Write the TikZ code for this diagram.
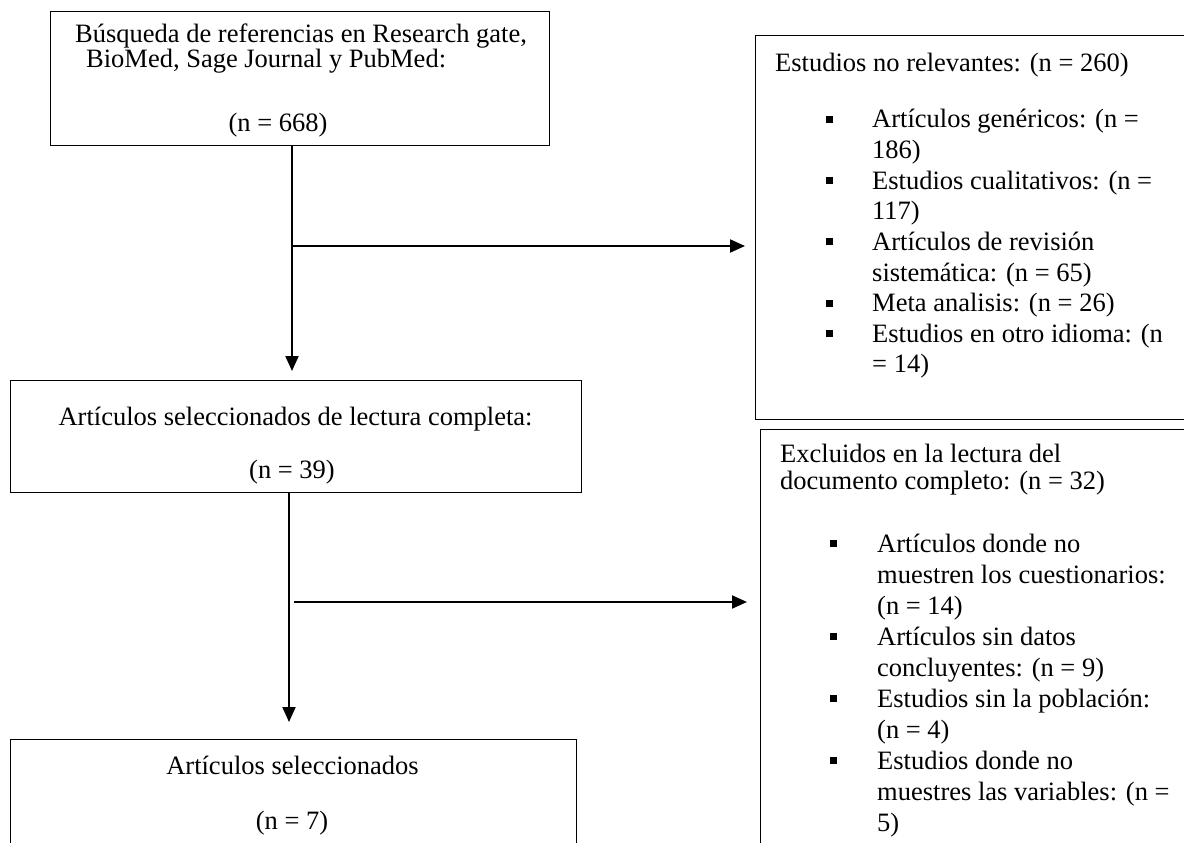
\documentclass[tikz,border=0pt]{standalone}
\usepackage{fontspec}
\setmainfont{Liberation Serif}
\usetikzlibrary{arrows.meta}
\begin{document}
\begin{tikzpicture}[x=1pt,y=-1pt,
  box/.style={draw=black, line width=1.2pt, inner sep=0pt, anchor=north west},
  txt/.style={inner sep=0pt, font=\fontsize{26.5}{23}\selectfont},
  ltxt/.style={txt, anchor=base west},
  ctxt/.style={txt, anchor=base},
  arr/.style={line width=2pt, -{Triangle[length=15pt,width=13pt]}},
  sq/.style={fill=black}]
\clip (0,0) rectangle (1184,843);
\fill[white] (0,0) rectangle (1184,843);

% boxes
\node[box, minimum width=499pt, minimum height=134pt] (b1) at (50,11) {};
\node[box, minimum width=440pt, minimum height=384pt] (b2) at (755,35) {};
\node[box, minimum width=435pt, minimum height=431pt] (b3) at (760,429) {};
\node[box, minimum width=571pt, minimum height=112pt] (b4) at (10,380) {};
\node[box, minimum width=566pt, minimum height=121pt] (b5) at (10,739) {};

% box 1 text (anchor = baseline of the last line)
\node[txt, anchor=base west, align=left] (t11) at (75,68)
  {Búsqueda de referencias en Research gate,\\\hspace*{11pt}BioMed, Sage Journal y PubMed:};
\node[ctxt] (t13) at (278,131) {(n = 668)};

% box 4 text
\node[ctxt] (t41) at (295.5,425) {Artículos seleccionados de lectura completa:};
\node[ctxt] (t42) at (292,478) {(n = 39)};

% box 5 text
\node[ctxt] (t51) at (292.5,774) {Artículos seleccionados};
\node[ctxt] (t52) at (292,829) {(n = 7)};

% box 2 text
\node[ltxt] (t20) at (775,71) {Estudios no relevantes: (n = 260)};
\foreach \k/\s in {0/{Artículos genéricos: (n =},1/{186)},2/{Estudios cualitativos: (n =},3/{117)},4/{Artículos de revisión},5/{sistemática: (n = 65)},6/{Meta analisis: (n = 26)},7/{Estudios en otro idioma: (n},8/{= 14)}}
  \node[ltxt] (t2\k) at (872,128+30.6*\k) {\s};
\foreach \k in {0,2,4,6,7}
  \fill[sq] (826,128+30.6*\k-12) rectangle (833,128+30.6*\k-5);

% box 3 text
\node[ltxt] (t3a) at (780,462) {Excluidos en la lectura del};
\node[ltxt] (t3b) at (780,489) {documento completo: (n = 32)};
\foreach \k/\s in {0/{Artículos donde no},1/{muestren los cuestionarios:},2/{(n = 14)},3/{Artículos sin datos},4/{concluyentes: (n = 9)},5/{Estudios sin la población:},6/{(n = 4)},7/{Estudios donde no},8/{muestres las variables: (n =},9/{5)}}
  \node[ltxt] (t3\k) at (877,552+31*\k) {\s};
\foreach \k in {0,3,5,7}
  \fill[sq] (830,552+31*\k-12) rectangle (837,552+31*\k-5);

% connectors
\coordinate (v1) at (292,0);
\coordinate (h1) at (292,246);
\coordinate (v2) at (289,0);
\coordinate (h2) at (294,602);
\draw[arr, shorten >=9pt] (b1.south -| v1) -- (b4.north -| v1);
\draw[arr, shorten >=10pt] (h1) -- (h1 -| b2.west);
\draw[arr, shorten >=17pt] (b4.south -| v2) -- (b5.north -| v2);
\draw[arr, shorten >=13pt] (h2) -- (h2 -| b3.west);
\end{tikzpicture}
\end{document}
